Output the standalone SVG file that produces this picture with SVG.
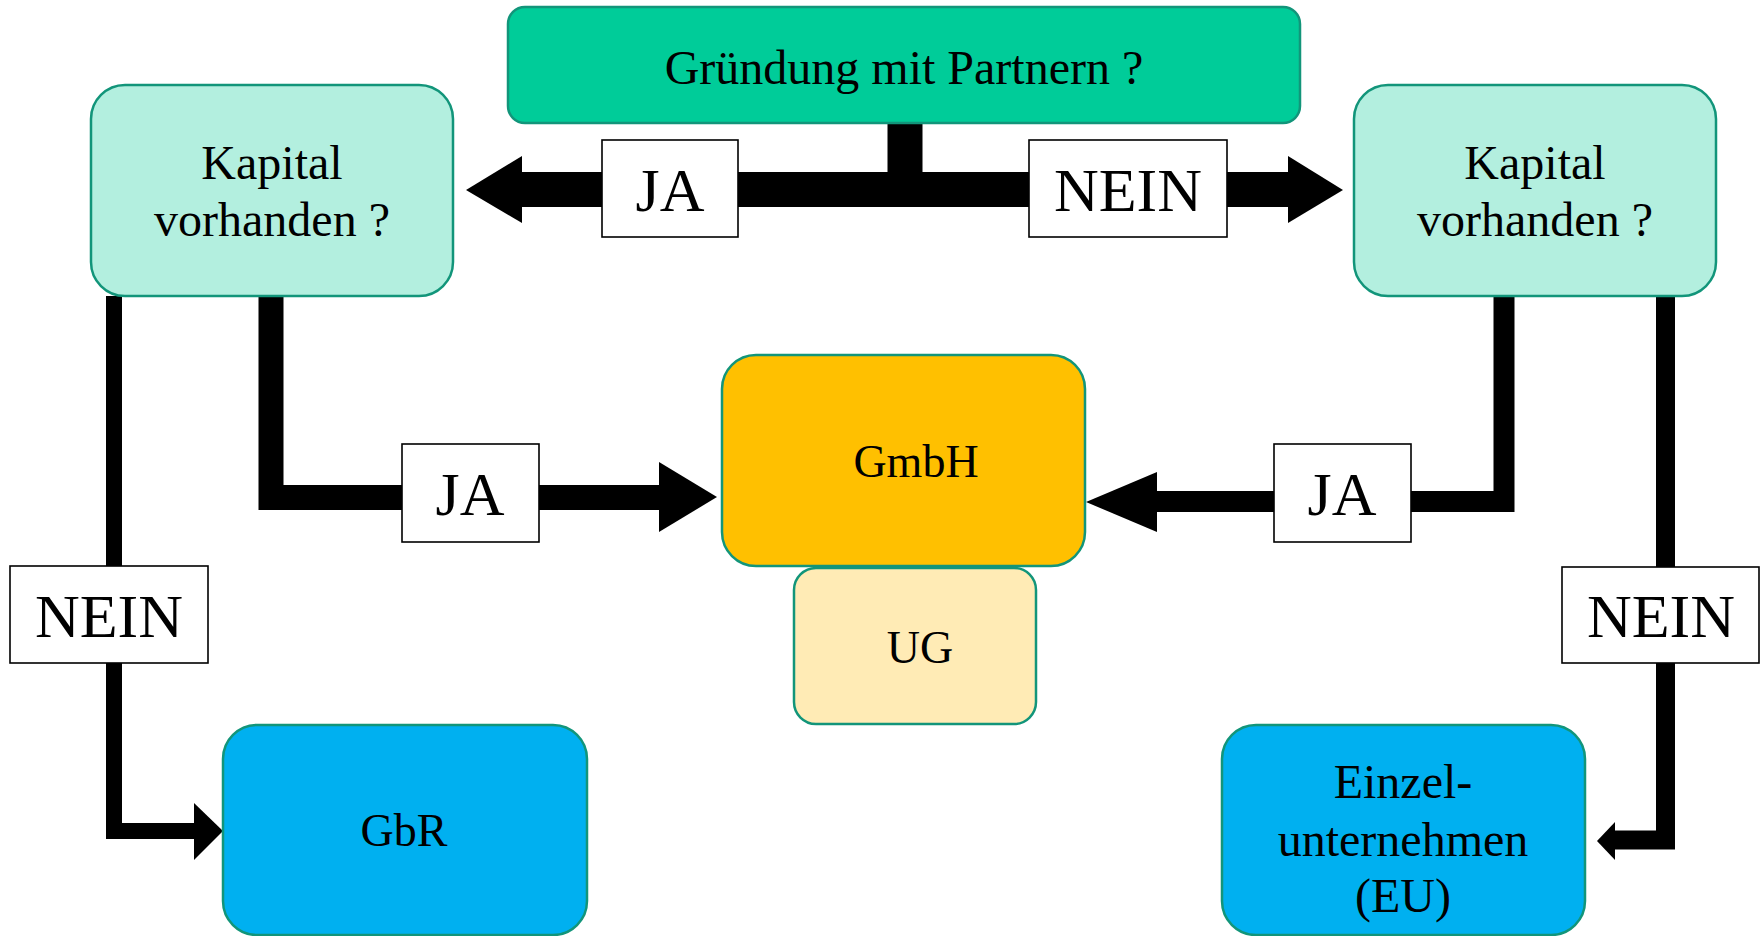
<svg xmlns="http://www.w3.org/2000/svg" width="1760" height="936" viewBox="0 0 1760 936">
<style>
.node{stroke:#12957A;stroke-width:2.5}
.t{font-family:"Liberation Serif","Times New Roman",serif;font-size:48px;fill:#000;text-anchor:middle}
.lt{font-family:"Liberation Serif","Times New Roman",serif;font-size:62px;fill:#000;text-anchor:middle}
.lab{fill:#fff;stroke:#000;stroke-width:1.6}
.c{fill:none;stroke:#000;stroke-linejoin:miter}
</style>
<rect width="1760" height="936" fill="#fff"/>
<g id="connectors">
  <path class="c" d="M905,123 V190" stroke-width="35"/>
  <path class="c" d="M520,189.5 H1290" stroke-width="35"/>
  <polygon points="522,156 466,190 522,223"/>
  <polygon points="1288,156 1343,190 1288,223"/>
  <path class="c" d="M271,296 V497.5 H661" stroke-width="25"/>
  <polygon points="659,462 717,497 659,532"/>
  <path class="c" d="M1504,296 V501.5 H1155" stroke-width="21"/>
  <polygon points="1157,472 1086,502 1157,532"/>
  <path class="c" d="M114,296 V831 H196" stroke-width="16"/>
  <polygon points="194,803 223,831 194,860"/>
  <path class="c" d="M1665.5,296 V840 H1613" stroke-width="19"/>
  <polygon points="1615,822 1597,841 1615,860"/>
</g>
<g id="labels">
  <g id="label-ja-top"><rect class="lab" x="602" y="140" width="136" height="97"/><text class="lt" x="670" y="211">JA</text></g>
  <g id="label-nein-top"><rect class="lab" x="1029" y="140" width="198" height="97"/><text class="lt" x="1128" y="211">NEIN</text></g>
  <g id="label-ja-left"><rect class="lab" x="402" y="444" width="137" height="98"/><text class="lt" x="470" y="515">JA</text></g>
  <g id="label-ja-right"><rect class="lab" x="1274" y="444" width="137" height="98"/><text class="lt" x="1342" y="515">JA</text></g>
  <g id="label-nein-left"><rect class="lab" x="10" y="566" width="198" height="97"/><text class="lt" x="109" y="637">NEIN</text></g>
  <g id="label-nein-right"><rect class="lab" x="1562" y="567" width="197" height="96"/><text class="lt" x="1661" y="637">NEIN</text></g>
</g>
<g id="gruendung">
  <rect class="node" x="508" y="7" width="792" height="116" rx="17" fill="#00CC99"/>
  <text class="t" x="904" y="84">Gründung mit Partnern ?</text>
</g>
<g id="kapital-left">
  <rect class="node" x="91" y="85" width="362" height="211" rx="34" fill="#B3EFDF"/>
  <text class="t" x="272" y="179">Kapital</text>
  <text class="t" x="272" y="236">vorhanden ?</text>
</g>
<g id="kapital-right">
  <rect class="node" x="1354" y="85" width="362" height="211" rx="34" fill="#B3EFDF"/>
  <text class="t" x="1535" y="179">Kapital</text>
  <text class="t" x="1535" y="236">vorhanden ?</text>
</g>
<g id="gmbh">
  <rect class="node" x="722" y="355" width="363" height="211" rx="34" fill="#FFC000"/>
  <text class="t" x="916" y="477" style="font-size:46px">GmbH</text>
</g>
<g id="ug">
  <rect class="node" x="794" y="568" width="242" height="156" rx="22" fill="#FFEBB5"/>
  <text class="t" x="920" y="663" style="font-size:46px">UG</text>
</g>
<g id="gbr">
  <rect class="node" x="223" y="725" width="364" height="210" rx="34" fill="#00B0F0"/>
  <text class="t" x="404" y="846" style="font-size:46px">GbR</text>
</g>
<g id="einzel">
  <rect class="node" x="1222" y="725" width="363" height="210" rx="34" fill="#00B0F0"/>
  <text class="t" x="1403" y="798">Einzel-</text>
  <text class="t" x="1403" y="856">unternehmen</text>
  <text class="t" x="1403" y="912">(EU)</text>
</g>
</svg>
